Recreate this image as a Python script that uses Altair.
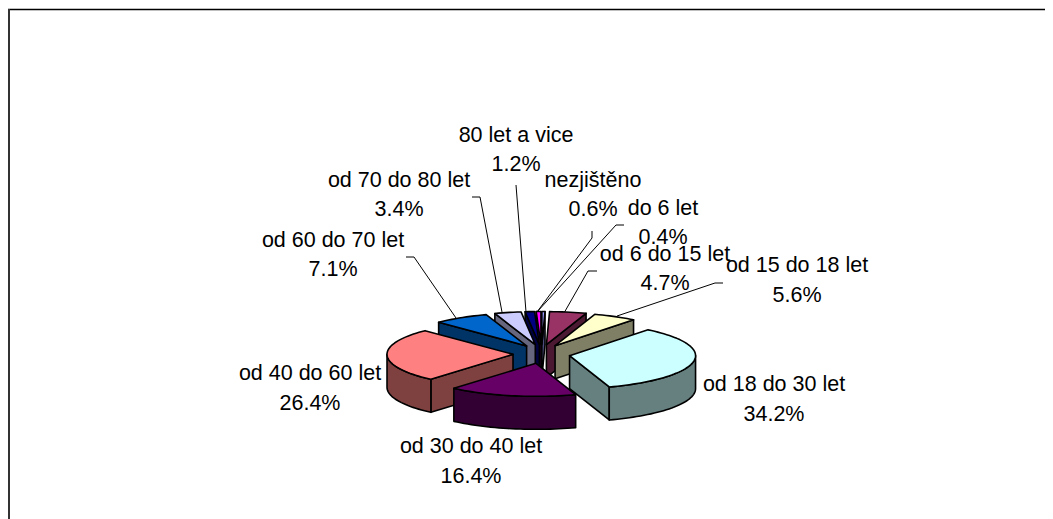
import math
import altair as alt
import pandas as pd

# ---- chart values ----
categories = ["do 6 let", "od 6 do 15 let", "od 15 do 18 let", "od 18 do 30 let", "od 30 do 40 let",
              "od 40 do 60 let", "od 60 do 70 let", "od 70 do 80 let", "80 let a vice", "nezjištěno"]
shares = [0.4, 4.7, 5.6, 34.2, 16.4, 26.4, 7.1, 3.4, 1.2, 0.6]
colors = ["#9999FF", "#993366", "#FFFFCC", "#CCFFFF", "#660066",
          "#FF8080", "#0066CC", "#CCCCFF", "#000080", "#FF00FF"]

# ---- layout (page pixels, the chart starts at 8,8) ----
W, H = 1037, 511
OFF = 8
CX, CY = 541.5, 354
EX, EY = 28.5, 9.5
RX, RY = 126, 33
DEPTH = 33
paint_order = [0, 9, 8, 1, 7, 2, 6, 5, 3, 4]
label_pos = [(663, 209), (665, 255), (797, 266), (774, 385), (471, 447),
             (310, 374), (333, 241), (399, 181), (516, 136), (593, 181)]
pct_pos = [(663, 238), (665, 284), (797, 296), (774, 415), (471, 477),
           (310, 404), (333, 270), (399, 210), (516, 165), (593, 210)]
leaders = [
    [(624, 225), (616, 225), (537, 312)],
    [(597, 271), (588, 271), (564, 313)],
    [(723, 283), (715, 283), (617, 316)],
    [],
    [],
    [],
    [(406, 257), (414, 257), (456, 318)],
    [(472, 197), (480, 197), (502, 312)],
    [(516, 185), (526, 312)],
    [(592, 231), (592, 238), (537, 312)],
]


def shade(hex_color):
    r, g, b = (int(hex_color[i:i + 2], 16) for i in (1, 3, 5))
    return "#%02X%02X%02X" % (r // 2, g // 2, b // 2)


def arc(ax, ay, a0, a1, dy=0.0):
    n = max(2, int(abs(a1 - a0) / 2) + 2)
    pts = []
    for i in range(n):
        t = math.radians(a0 + (a1 - a0) * i / (n - 1))
        pts.append([ax + RX * math.sin(t) - OFF, ay - RY * math.cos(t) + dy - OFF])
    return pts


def feature(points, fill):
    ring = points + [points[0]]
    return {"type": "Feature", "properties": {"fill": fill},
            "geometry": {"type": "Polygon", "coordinates": [ring]}}


starts = []
acc = 0.0
for s in shares:
    starts.append(acc)
    acc += s

faces = []
for i in paint_order:
    a0 = starts[i] * 3.6
    a1 = (starts[i] + shares[i]) * 3.6
    mid = math.radians((a0 + a1) / 2)
    ax = CX + EX * math.sin(mid)
    ay = CY - EY * math.cos(mid)
    side = shade(colors[i])
    apex = [ax - OFF, ay - OFF]
    apex_low = [ax - OFF, ay - OFF + DEPTH]
    for ang, visible in ((a0, math.sin(math.radians(a0)) < 0), (a1, math.sin(math.radians(a1)) > 0)):
        if visible:
            top = arc(ax, ay, ang, ang + 0.001)[0]
            low = arc(ax, ay, ang, ang + 0.001, DEPTH)[0]
            faces.append(feature([apex, top, low, apex_low], side))
    w0, w1 = max(a0, 90), min(a1, 270)
    if w1 > w0:
        faces.append(feature(arc(ax, ay, w0, w1) + arc(ax, ay, w1, w0, DEPTH), side))
    faces.append(feature([apex] + arc(ax, ay, a0, a1), colors[i]))

proj = alt.Projection(type="identity", scale=1, translate=[0, 0])

pie = alt.Chart(alt.Data(values=faces)).mark_geoshape(
    stroke="black", strokeWidth=1.6, strokeJoin="round"
).encode(fill=alt.Fill("properties.fill:N", scale=None)).project(**proj.to_dict())

x_scale = alt.Scale(domain=[0, W], range=[0, W], nice=False, zero=False)
y_scale = alt.Scale(domain=[0, H], range=[0, H], nice=False, zero=False)
X = lambda f: alt.X(f, scale=x_scale, axis=None)
Y = lambda f: alt.Y(f, scale=y_scale, axis=None)

rows = []
for i, c in enumerate(categories):
    rows.append({"t": c, "x": label_pos[i][0] - OFF, "y": label_pos[i][1] - OFF})
    rows.append({"t": f"{shares[i]:.1f}%", "x": pct_pos[i][0] - OFF, "y": pct_pos[i][1] - OFF})
text = alt.Chart(pd.DataFrame(rows)).mark_text(
    font="Liberation Sans", fontSize=21.5, color="black", align="center", baseline="middle"
).encode(x=X("x:Q"), y=Y("y:Q"), text="t:N")

seg_rows = []
for i, line in enumerate(leaders):
    for j, (a, b) in enumerate(zip(line, line[1:])):
        seg_rows.append({"x": a[0] - OFF, "y": a[1] - OFF, "x2": b[0] - OFF, "y2": b[1] - OFF})
segs = alt.Chart(pd.DataFrame(seg_rows)).mark_rule(color="black", strokeWidth=1).encode(
    x=X("x:Q"), y=Y("y:Q"), x2="x2:Q", y2="y2:Q")

frame_top = alt.Chart(pd.DataFrame({"x": [0], "x2": [W], "y": [1.5]})).mark_rule(
    color="black", strokeWidth=1.5).encode(x=X("x:Q"), x2="x2:Q", y=Y("y:Q"))
frame_left = alt.Chart(pd.DataFrame({"x": [1], "y": [1], "y2": [H]})).mark_rule(
    color="#333333", strokeWidth=2).encode(x=X("x:Q"), y=Y("y:Q"), y2="y2:Q")

chart = alt.layer(frame_top, frame_left, segs, pie, text).properties(
    width=W, height=H, padding=0,
    autosize=alt.AutoSizeParams(type="none"),
    background="white",
).configure_view(stroke=None)

chart.save("out.html", embed_options={"renderer": "svg", "actions": False})
